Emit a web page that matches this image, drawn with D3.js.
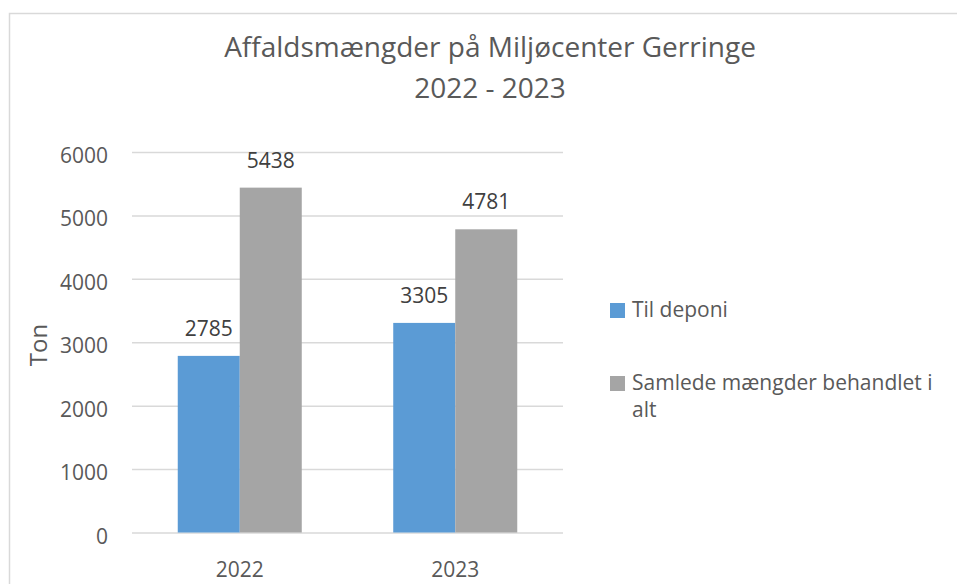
<!DOCTYPE html>
<html>
<head>
<meta charset="utf-8">
<script src="https://cdn.jsdelivr.net/npm/d3@7"></script>
<style>
	body { margin: 0; background: #fff; }
	text { font-family: "Open Sans", sans-serif; fill: #595959; }
</style>
</head>
<body>
<svg id="svg_chart" width="957" height="584"></svg>
<script>
var years = ["2022", "2023"];
var seriesNames = ["Til deponi", "Samlede mængder behandlet i alt"];
var tilDeponi = [2785, 3305];
var samlet = [5438, 4781];
var yTicks = [0, 1000, 2000, 3000, 4000, 5000, 6000];
var colors = ["#5B9BD5", "#A5A5A5"];

function renderChart() {
	var svg = d3.select("#svg_chart"),
		margin = {left: 132, right: 394, top: 152, bottom: 51.5};
	var width = svg.attr("width"), height = svg.attr("height");

	// chart border, runs off the right and bottom like the original
	svg.append("rect")
		.attr("x", 9.5).attr("y", 13.5)
		.attr("width", 1000).attr("height", 1000)
		.attr("fill", "none").attr("stroke", "#d9d9d9").attr("stroke-width", 1.5);

	svg.append("text").attr("x", 490).attr("y", 57)
		.attr("text-anchor", "middle").style("font-size", "28px")
		.text("Affaldsmængder på Miljøcenter Gerringe");
	svg.append("text").attr("x", 490).attr("y", 98)
		.attr("text-anchor", "middle").style("font-size", "28px")
		.text("2022 - 2023");

	var x = d3.scaleBand().domain(years)
		.range([margin.left, width - margin.right])
		.paddingInner(0.4245).paddingOuter(0.2123);
	var sub = d3.scaleBand().domain([0, 1]).range([0, x.bandwidth()]);
	var y = d3.scaleLinear().domain([0, 6000])
		.range([height - margin.bottom, margin.top]);

	var gy = svg.append("g").attr("transform", "translate(" + margin.left + ",0)")
		.call(d3.axisLeft(y).tickValues(yTicks).tickFormat(d3.format("d"))
			.tickSize(-(width - margin.right - margin.left)).tickPadding(24));
	gy.select(".domain").remove();
	gy.selectAll("line").attr("stroke", "#d9d9d9").attr("stroke-width", 1.5);
	gy.selectAll("text").style("font-size", "21px").attr("dy", "0.5em")
		.attr("fill", "#595959");

	svg.append("text")
		.attr("transform", "translate(47,345) rotate(-90)")
		.attr("text-anchor", "middle").style("font-size", "24px")
		.text("Ton");

	var series = [tilDeponi, samlet];
	var g = svg.append("g");
	for (var s = 0; s < series.length; ++s) {
		var data = years.map(function(d, i) {
			return {year: d, value: series[s][i]};
		});
		g.selectAll(".bar" + s).data(data).enter().append("rect")
			.attr("x", function(d) { return x(d.year) + sub(s); })
			.attr("y", function(d) { return y(d.value); })
			.attr("width", sub.bandwidth())
			.attr("height", function(d) { return y(0) - y(d.value); })
			.attr("fill", colors[s]);
		g.selectAll(".lab" + s).data(data).enter().append("text")
			.attr("x", function(d) { return x(d.year) + sub(s) + sub.bandwidth() / 2; })
			.attr("y", function(d) { return y(d.value) - 20; })
			.attr("text-anchor", "middle").style("font-size", "21px")
			.style("fill", "#404040")
			.text(function(d) { return d.value; });
	}

	svg.selectAll(".xlab").data(years).enter().append("text")
		.attr("x", function(d) { return x(d) + x.bandwidth() / 2; })
		.attr("y", 577).attr("text-anchor", "middle").style("font-size", "21px")
		.text(function(d) { return d; });

	// legend
	var legend = svg.append("g");
	legend.append("rect").attr("x", 610).attr("y", 303).attr("width", 15).attr("height", 15)
		.attr("fill", colors[0]);
	legend.append("text").attr("x", 632).attr("y", 317).style("font-size", "21px")
		.text(seriesNames[0]);
	legend.append("rect").attr("x", 610).attr("y", 376).attr("width", 15).attr("height", 15)
		.attr("fill", colors[1]);
	legend.append("text").attr("x", 632).attr("y", 390).style("font-size", "21px")
		.text("Samlede mængder behandlet i");
	legend.append("text").attr("x", 632).attr("y", 417).style("font-size", "21px")
		.text("alt");
}

renderChart();
</script>
</body>
</html>
